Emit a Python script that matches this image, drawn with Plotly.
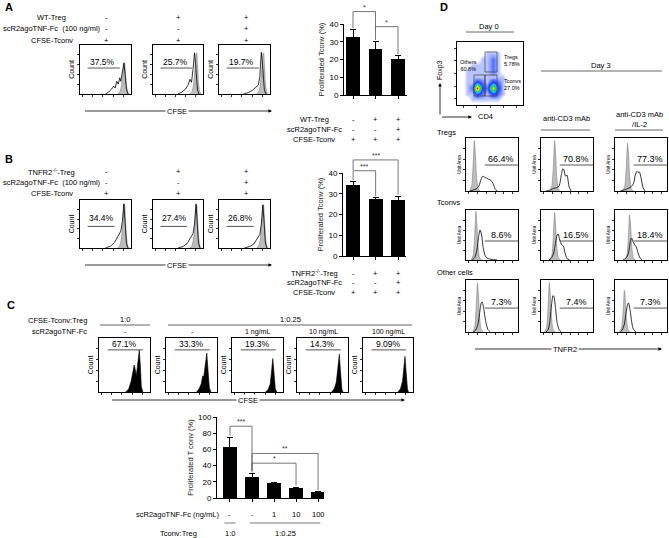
import plotly.graph_objects as go

W, H = 669, 538
FONT = "Liberation Sans, Arial, sans-serif"
GRAY_FILL = "#bdbdbd"
GRAY_LINE = "#808080"

# ======================= DATA =======================
# ---- Panel A ----
A_COND_LABELS = ["WT-Treg", "scR2agoTNF-Fc  (100 ng/ml)", "CFSE-Tconv"]
A_COND_VALUES = [["-", "+", "+"], ["-", "-", "+"], ["+", "+", "+"]]
A_PCT = ["37.5%", "25.7%", "19.7%"]
A_GRAY_X = [0.74, 0.78, 0.81, 0.84, 0.86, 0.875, 0.89, 0.91, 0.94, 0.97]
A_GRAY_Y = [
    [0, 0.04, 0.15, 0.40, 0.60, 0.65, 0.48, 0.18, 0.03, 0],
    [0, 0.05, 0.18, 0.50, 0.80, 0.84, 0.60, 0.22, 0.03, 0],
    [0, 0.05, 0.18, 0.50, 0.80, 0.84, 0.60, 0.22, 0.03, 0],
]
A_OUT_X = [
    [0.50, 0.56, 0.62, 0.66, 0.69, 0.72, 0.75, 0.78, 0.80, 0.83, 0.86, 0.88, 0.91, 0.94],
    [0.50, 0.58, 0.65, 0.70, 0.74, 0.77, 0.80, 0.83, 0.86, 0.89, 0.92],
    [0.48, 0.58, 0.66, 0.72, 0.77, 0.80, 0.83, 0.86, 0.89, 0.92],
]
A_OUT_Y = [
    [0, 0.04, 0.10, 0.16, 0.12, 0.26, 0.20, 0.33, 0.26, 0.42, 0.63, 0.45, 0.10, 0],
    [0, 0.04, 0.10, 0.18, 0.30, 0.24, 0.50, 0.84, 0.50, 0.08, 0],
    [0, 0.03, 0.08, 0.13, 0.18, 0.35, 0.85, 0.50, 0.08, 0],
]
A_BAR_VALUES = [32.5, 26.0, 20.3]
A_BAR_ERR = [4.5, 4.0, 2.0]
A_BAR_ROWS = ["WT-Treg", "scR2agoTNF-Fc", "CFSE-Tconv"]
# [i, j, top, left-leg end, right-leg end, label]
A_SIG = [[0, 1, 47.0, 37.5, 37.5, "*"], [1, 2, 38.5, 31.0, 23.0, "*"]]

# ---- Panel B ----
B_COND_LABELS = ["TNFR2<sup>-/-</sup>-Treg", "scR2agoTNF-Fc  (100 ng/ml)", "CFSE-Tconv"]
B_COND_VALUES = [["-", "+", "+"], ["-", "-", "+"], ["+", "+", "+"]]
B_PCT = ["34.4%", "27.4%", "26.8%"]
B_GRAY_X = [0.74, 0.78, 0.81, 0.84, 0.86, 0.875, 0.89, 0.91, 0.94, 0.97]
B_GRAY_Y = [
    [0, 0.05, 0.18, 0.50, 0.85, 0.92, 0.65, 0.25, 0.03, 0],
    [0, 0.05, 0.18, 0.50, 0.84, 0.90, 0.64, 0.24, 0.03, 0],
    [0, 0.05, 0.18, 0.50, 0.84, 0.90, 0.64, 0.24, 0.03, 0],
]
B_OUT_X = [0.50, 0.60, 0.68, 0.73, 0.77, 0.80, 0.83, 0.86, 0.88, 0.91, 0.94]
B_OUT_Y = [
    [0, 0.04, 0.12, 0.22, 0.30, 0.35, 0.55, 0.92, 0.60, 0.10, 0],
    [0, 0.03, 0.09, 0.17, 0.24, 0.30, 0.50, 0.92, 0.60, 0.10, 0],
    [0, 0.03, 0.08, 0.16, 0.23, 0.28, 0.50, 0.90, 0.60, 0.10, 0],
]
B_BAR_VALUES = [34.2, 27.5, 27.2]
B_BAR_ERR = [1.8, 0.7, 1.4]
B_BAR_ROWS = ["TNFR2<sup>-/-</sup>-Treg", "scR2agoTNF-Fc", "CFSE-Tconv"]
B_SIG = [[0, 1, 41.1, 36.6, 28.8, "***"], [0, 2, 46.3, 41.4, 29.6, "***"]]

# ---- Panel C ----
C_ROW_LABELS = ["CFSE-Tconv:Treg", "scR2agoTNF-Fc"]
C_RATIOS = ["1:0", "1:0.25"]
C_DOSES = ["-", "-", "1 ng/mL", "10 ng/mL", "100 ng/mL"]
C_PCT = ["67.1%", "33.3%", "19.3%", "14.3%", "9.09%"]
C_HIST_X = [
    [0.52, 0.58, 0.63, 0.66, 0.69, 0.71, 0.73, 0.75, 0.77, 0.79, 0.81, 0.83, 0.86],
    [0.60, 0.65, 0.69, 0.72, 0.74, 0.76, 0.78, 0.80, 0.82, 0.85, 0.88],
    [0.66, 0.71, 0.75, 0.78, 0.80, 0.82, 0.85, 0.88],
    [0.68, 0.73, 0.77, 0.80, 0.83, 0.85, 0.88, 0.90],
    [0.70, 0.75, 0.79, 0.82, 0.84, 0.86, 0.89, 0.91],
]
C_HIST_Y = [
    [0, 0.05, 0.20, 0.35, 0.50, 0.42, 0.30, 0.45, 0.70, 0.78, 0.50, 0.10, 0],
    [0, 0.06, 0.15, 0.30, 0.28, 0.40, 0.60, 0.72, 0.45, 0.08, 0],
    [0, 0.05, 0.15, 0.45, 0.62, 0.40, 0.05, 0],
    [0, 0.06, 0.18, 0.45, 0.70, 0.42, 0.05, 0],
    [0, 0.06, 0.20, 0.45, 0.66, 0.40, 0.05, 0],
]
C_BAR_VALUES = [63.3, 25.7, 18.4, 12.2, 7.1]
C_BAR_ERR = [11.5, 4.9, 1.0, 0.6, 1.0]
C_BAR_DOSE = ["-", "-", "1", "10", "100"]
C_SIG = [[0, 1, 88.6, 77.0, 31.5, "***"], [1, 4, 55.0, 34.0, 10.0, "**"], [1, 3, 43.0, 34.0, 15.5, "*"]]

# ---- Panel D ----
D_COLS = ["", "anti-CD3 mAb", "anti-CD3 mAb<br>/IL-2"]
D_ROWS = ["Tregs", "Tconvs", "Other cells"]
D_PCT = [["66.4%", "70.8%", "77.3%"], ["8.6%", "16.5%", "18.4%"], ["7.3%", "7.4%", "7.3%"]]
D_GRAY_X = [
    [[0.07, 0.11, 0.14, 0.16, 0.18, 0.20, 0.23, 0.27],
     [0.17, 0.21, 0.24, 0.26, 0.28, 0.30, 0.33, 0.37],
     [0.15, 0.19, 0.22, 0.24, 0.26, 0.28, 0.31, 0.35]],
    [[0.10, 0.14, 0.17, 0.19, 0.21, 0.23, 0.26, 0.30],
     [0.17, 0.21, 0.24, 0.26, 0.28, 0.30, 0.33, 0.37],
     [0.19, 0.23, 0.26, 0.28, 0.30, 0.32, 0.35, 0.39]],
    [[0.13, 0.17, 0.20, 0.22, 0.24, 0.26, 0.29, 0.33],
     [0.07, 0.11, 0.14, 0.16, 0.18, 0.20, 0.23, 0.27],
     [0.09, 0.13, 0.16, 0.18, 0.20, 0.22, 0.25, 0.29]],
]
D_GRAY_Y = [
    [[0, 0.10, 0.55, 0.95, 0.70, 0.30, 0.05, 0],
     [0, 0.10, 0.50, 0.95, 0.75, 0.30, 0.05, 0],
     [0, 0.10, 0.50, 0.90, 0.70, 0.30, 0.05, 0]],
    [[0, 0.10, 0.55, 0.97, 0.70, 0.30, 0.05, 0],
     [0, 0.10, 0.50, 0.95, 0.72, 0.30, 0.05, 0],
     [0, 0.10, 0.50, 0.90, 0.70, 0.30, 0.05, 0]],
    [[0, 0.10, 0.55, 0.94, 0.70, 0.30, 0.05, 0],
     [0, 0.10, 0.55, 0.95, 0.70, 0.30, 0.05, 0],
     [0, 0.10, 0.45, 0.80, 0.60, 0.25, 0.05, 0]],
]
D_OUT_X = [
    [[0.08, 0.14, 0.20, 0.25, 0.29, 0.32, 0.36, 0.40, 0.44, 0.48, 0.52, 0.56, 0.60],
     [0.10, 0.18, 0.24, 0.30, 0.35, 0.39, 0.42, 0.44, 0.47, 0.50, 0.54, 0.58],
     [0.10, 0.18, 0.25, 0.31, 0.36, 0.39, 0.42, 0.44, 0.47, 0.50, 0.54, 0.58]],
    [[0.12, 0.17, 0.21, 0.24, 0.27, 0.30, 0.33, 0.37, 0.42, 0.50, 0.60],
     [0.15, 0.20, 0.24, 0.28, 0.31, 0.33, 0.36, 0.40, 0.43, 0.46, 0.50, 0.55],
     [0.15, 0.20, 0.24, 0.27, 0.30, 0.32, 0.35, 0.38, 0.41, 0.44, 0.48, 0.52]],
    [[0.14, 0.19, 0.23, 0.26, 0.29, 0.31, 0.34, 0.38, 0.42, 0.47],
     [0.10, 0.14, 0.17, 0.20, 0.23, 0.25, 0.28, 0.31, 0.35, 0.39],
     [0.10, 0.14, 0.18, 0.21, 0.24, 0.26, 0.29, 0.32, 0.35, 0.40]],
]
D_OUT_Y = [
    [[0, 0.02, 0.04, 0.10, 0.22, 0.28, 0.26, 0.24, 0.22, 0.20, 0.14, 0.04, 0],
     [0, 0.02, 0.05, 0.06, 0.10, 0.30, 0.42, 0.40, 0.28, 0.30, 0.08, 0],
     [0, 0.02, 0.05, 0.08, 0.15, 0.30, 0.37, 0.35, 0.36, 0.25, 0.06, 0]],
    [[0, 0.05, 0.20, 0.45, 0.60, 0.50, 0.25, 0.08, 0.03, 0.01, 0],
     [0, 0.04, 0.12, 0.35, 0.50, 0.52, 0.40, 0.30, 0.28, 0.15, 0.03, 0],
     [0, 0.03, 0.08, 0.20, 0.40, 0.44, 0.36, 0.30, 0.26, 0.15, 0.04, 0]],
    [[0, 0.04, 0.15, 0.35, 0.55, 0.58, 0.45, 0.20, 0.05, 0],
     [0, 0.05, 0.20, 0.50, 0.70, 0.68, 0.45, 0.18, 0.04, 0],
     [0, 0.04, 0.15, 0.35, 0.52, 0.56, 0.42, 0.20, 0.06, 0]],
]
# Day 0 CD4 / Foxp3 pseudocolor density (coarse grid)
DOT_X = [0, 0.077, 0.154, 0.23, 0.31, 0.385, 0.46, 0.54, 0.615, 0.69, 0.77, 0.846, 0.92, 1.0]
DOT_Y = [0, 0.09, 0.18, 0.27, 0.36, 0.45, 0.545, 0.636, 0.727, 0.818, 0.909, 1.0]
DOT_Z = [
    [0, 0, 0, 0, 0, 0, 0, 0, 0, 0, 0, 0, 0, 0],
    [0, 0, 0, 1, 1, 1, 1, 1, 1, 0, 0, 0, 0, 0],
    [0, 0, 1, 1, 3, 2, 1, 3, 2, 1, 0, 0, 0, 0],
    [0, 0, 1, 2, 9, 3, 2, 7, 3, 1, 0, 0, 0, 0],
    [0, 0, 1, 1, 3, 2, 1, 3, 2, 1, 0, 0, 0, 0],
    [0, 0, 1, 1, 1, 1, 1, 1, 1, 1, 0, 0, 0, 0],
    [0, 0, 1, 1, 1, 1, 1, 2, 1, 0, 0, 0, 0, 0],
    [0, 0, 0, 1, 1, 1, 1, 2, 1, 0, 0, 0, 0, 0],
    [0, 0, 0, 0, 0, 1, 1, 2, 1, 0, 0, 0, 0, 0],
    [0, 0, 0, 0, 0, 0, 1, 1, 1, 0, 0, 0, 0, 0],
    [0, 0, 0, 0, 0, 0, 0, 0, 0, 0, 0, 0, 0, 0],
    [0, 0, 0, 0, 0, 0, 0, 0, 0, 0, 0, 0, 0, 0],
]
GATES = {  # x0, x1, y0, y1 in plot fraction
    "Tregs": [0.424, 0.606, 0.524, 0.841],
    "Tconvs": [0.424, 0.606, 0.143, 0.476],
    "Others": [0.258, 0.424, 0.143, 0.476],
}
GATE_LABELS = [["Others<br>60.8%", 0.17, 0.62, "center"],
               ["Tregs<br>5.78%", 0.68, 0.70, "left"],
               ["Tconvs<br>27.0%", 0.68, 0.32, "left"]]

# ======================= BUILD =======================
fig = go.Figure()
LAY = {}
ANN = []
SHP = []
_n = [0]


def axes(x0, x1, ytop, ybot, xr, yr, xo=None, yo=None):
    _n[0] += 1
    s = "" if _n[0] == 1 else str(_n[0])
    base = dict(showgrid=False, zeroline=False, fixedrange=True, automargin=False)
    xa = dict(base, domain=[x0 / W, x1 / W], anchor="y" + s, range=xr)
    ya = dict(base, domain=[1 - ybot / H, 1 - ytop / H], anchor="x" + s, range=yr)
    xa.update(xo or {})
    ya.update(yo or {})
    LAY["xaxis" + s] = xa
    LAY["yaxis" + s] = ya
    return "x" + s, "y" + s


def text(px, py, s, size=7.5, xanchor="center", color="black", bold=False, **kw):
    if bold:
        s = "<b>" + s + "</b>"
    ANN.append(dict(x=px / W, y=1 - py / H, xref="paper", yref="paper", text=s, showarrow=False,
                    font=dict(size=size, family=FONT, color=color), xanchor=xanchor,
                    yanchor="middle", **kw))


def pline(x0, y0, x1, y1, color="#555", width=0.9):
    SHP.append(dict(type="line", xref="paper", yref="paper", x0=x0 / W, x1=x1 / W,
                    y0=1 - y0 / H, y1=1 - y1 / H, line=dict(color=color, width=width)))


def arrow(tx, ty, hx, hy):
    ANN.append(dict(x=hx / W, y=1 - hy / H, xref="paper", yref="paper", text=" ",
                    font=dict(size=2), showarrow=True, ax=tx - hx, ay=ty - hy,
                    axref="pixel", ayref="pixel",
                    arrowhead=2, arrowsize=0.9, arrowwidth=0.8, arrowcolor="black"))


def box_axes(x0, x1, ytop, ybot, ytitle, tsize, ticks_x=None, ticks_y=None):
    common = dict(showline=True, mirror=True, linecolor="black", linewidth=0.8,
                  ticks="outside", ticklen=2, tickwidth=0.6, tickcolor="#333",
                  showticklabels=False)
    xo = dict(common, tickvals=ticks_x or [0.05, 0.25, 0.45, 0.65, 0.85])
    yo = dict(common, tickvals=ticks_y or [0.2, 0.4, 0.6, 0.8])
    if ytitle:
        yo["title"] = dict(text=ytitle, font=dict(size=tsize, family=FONT, color="black"), standoff=1)
    return axes(x0, x1, ytop, ybot, [0, 1], [0, 1], xo, yo)


def gray_curve(xa, ya, gx, gy):
    fig.add_trace(go.Scatter(x=gx, y=gy, xaxis=xa, yaxis=ya, mode="lines", fill="tozeroy",
                             fillcolor=GRAY_FILL, line=dict(color=GRAY_LINE, width=0.6, shape="spline", smoothing=0.5),
                             hoverinfo="skip", showlegend=False))


def out_curve(xa, ya, ox, oy, shape="linear"):
    fig.add_trace(go.Scatter(x=ox, y=oy, xaxis=xa, yaxis=ya, mode="lines",
                             line=dict(color="black", width=0.8, shape=shape, smoothing=0.6),
                             hoverinfo="skip", showlegend=False))


def pct_mark(xa, ya, lx0, lx1, ly, tx, ty, label, size):
    fig.add_trace(go.Scatter(x=[lx0, lx1], y=[ly, ly], xaxis=xa, yaxis=ya, mode="lines",
                             line=dict(color="#555", width=1.0), hoverinfo="skip", showlegend=False))
    ANN.append(dict(x=tx, y=ty, xref=xa, yref=ya, text=label, showarrow=False,
                    font=dict(size=size, family=FONT, color="black"), xanchor="center", yanchor="middle"))


def bar_chart(x0, x1, p0, pmax, vmax, ptop, xr, vals, errs, width, yticks, ytitle, sig):
    xo = dict(showline=True, linecolor="black", linewidth=1, ticks="outside", ticklen=3,
              tickwidth=1, tickcolor="black", tickvals=list(range(len(vals))), showticklabels=False)
    yo = dict(showline=True, linecolor="black", linewidth=1, ticks="outside", ticklen=3,
              tickwidth=1, tickcolor="black", tickvals=yticks,
              tickfont=dict(size=8, family=FONT, color="black"),
              title=dict(text=ytitle, font=dict(size=7.5, family=FONT, color="#222"), standoff=3))
    xa, ya = axes(x0, x1, pmax, p0, xr, [0, vmax], xo, yo)
    fig.add_trace(go.Bar(x=list(range(len(vals))), y=vals, width=width, xaxis=xa, yaxis=ya,
                         marker=dict(color="black", line=dict(width=0)),
                         error_y=dict(type="data", array=errs, visible=True, color="black",
                                      thickness=1, width=3),
                         hoverinfo="skip", showlegend=False))
    top_val = vmax * (p0 - ptop) / (p0 - pmax)
    bxa, bya = axes(x0, x1, ptop, p0, xr, [0, top_val], dict(visible=False), dict(visible=False))
    for i, j, top, l, r, lab in sig:
        fig.add_trace(go.Scatter(x=[i, i, j, j], y=[l, top, top, r], xaxis=bxa, yaxis=bya,
                                 mode="lines", line=dict(color="#666", width=0.9),
                                 hoverinfo="skip", showlegend=False))
        ANN.append(dict(x=(i + j) / 2, y=top, xref=bxa, yref=bya, text=lab, showarrow=False,
                        font=dict(size=7, family=FONT, color="#333"), xanchor="center",
                        yanchor="bottom", yshift=-1))
    return xa, ya


# ---------------- Panel A ----------------
text(3, 7, "A", size=11, xanchor="left", bold=True)
A_BOX_X = [(80, 131), (153, 203), (219, 270)]
A_COL_X = [106, 178, 246]
for r, lab in enumerate(A_COND_LABELS):
    text(52, 17 + r * 11.5, lab)
    for c in range(3):
        text(A_COL_X[c], 17 + r * 11.5, A_COND_VALUES[r][c])
for c, (bx0, bx1) in enumerate(A_BOX_X):
    xa, ya = box_axes(bx0, bx1, 45, 94, "Count", 7)
    gray_curve(xa, ya, A_GRAY_X, A_GRAY_Y[c])
    out_curve(xa, ya, A_OUT_X[c], A_OUT_Y[c])
    pct_mark(xa, ya, 0.15, 0.78, 0.53, 0.45, 0.65, A_PCT[c], 8.5)
arrow(83, 111, 272, 111)
text(177, 111, "CFSE", size=7.5, bgcolor="white")

xa, ya = bar_chart(344, 407, 95, 24, 40, 3, [-0.4, 2.4], A_BAR_VALUES, A_BAR_ERR, 0.62,
                   [0, 10, 20, 30, 40], "Proliferated Tconv (%)", A_SIG)
for r, lab in enumerate(A_BAR_ROWS):
    ANN.append(dict(x=314 / W, y=1 - (119 + r * 10.5) / H, xref="paper", yref="paper", text=lab,
                    showarrow=False, font=dict(size=7.5, family=FONT, color="black"),
                    xanchor="center", yanchor="middle"))
    for c in range(3):
        ANN.append(dict(x=c, y=1 - (119 + r * 10.5) / H, xref=xa, yref="paper",
                        text=A_COND_VALUES[r][c], showarrow=False,
                        font=dict(size=7.5, family=FONT, color="black"), yanchor="middle"))

# ---------------- Panel B ----------------
text(3, 159, "B", size=11, xanchor="left", bold=True)
for r, lab in enumerate(B_COND_LABELS):
    text(52, 172 + r * 10.5, lab)
    for c in range(3):
        text(A_COL_X[c], 172 + r * 10.5, B_COND_VALUES[r][c])
for c, (bx0, bx1) in enumerate(A_BOX_X):
    xa, ya = box_axes(bx0, bx1, 200, 248, "Count", 7)
    gray_curve(xa, ya, B_GRAY_X, B_GRAY_Y[c])
    out_curve(xa, ya, B_OUT_X, B_OUT_Y[c])
    pct_mark(xa, ya, 0.15, 0.68, 0.45, 0.42, 0.62, B_PCT[c], 8.5)
arrow(83, 265, 272, 265)
text(177, 265, "CFSE", size=7.5, bgcolor="white")

xa, ya = bar_chart(343, 406, 256, 173, 40, 150, [-0.45, 2.35], B_BAR_VALUES, B_BAR_ERR, 0.62,
                   [0, 10, 20, 30, 40], "Proliferated Tconv (%)", B_SIG)
for r, lab in enumerate(B_BAR_ROWS):
    ANN.append(dict(x=314 / W, y=1 - (273 + r * 9.8) / H, xref="paper", yref="paper", text=lab,
                    showarrow=False, font=dict(size=7.5, family=FONT, color="black"),
                    xanchor="center", yanchor="middle"))
    for c in range(3):
        ANN.append(dict(x=c, y=1 - (273 + r * 9.8) / H, xref=xa, yref="paper",
                        text=B_COND_VALUES[r][c], showarrow=False,
                        font=dict(size=7.5, family=FONT, color="black"), yanchor="middle"))

# ---------------- Panel C ----------------
text(5, 305, "C", size=11, xanchor="left", bold=True)
text(89, 320, C_ROW_LABELS[0], xanchor="right")
text(89, 331, C_ROW_LABELS[1], xanchor="right")
text(125, 319, C_RATIOS[0])
pline(100, 325, 150, 325)
text(290, 319, C_RATIOS[1])
pline(168, 325, 412, 325)
C_BOX_X = [(99, 150), (166, 217), (232, 283), (297, 348), (363, 413)]
C_DOSE_X = [125, 192, 257, 323, 388]
for c, (bx0, bx1) in enumerate(C_BOX_X):
    text(C_DOSE_X[c], 331.5, C_DOSES[c], size=7)
    xa, ya = box_axes(bx0, bx1, 338, 392, "Count", 7)
    fig.add_trace(go.Scatter(x=C_HIST_X[c], y=C_HIST_Y[c], xaxis=xa, yaxis=ya, mode="lines",
                             fill="tozeroy", fillcolor="black", line=dict(color="black", width=0.6),
                             hoverinfo="skip", showlegend=False))
    pct_mark(xa, ya, 0.17, 0.86, 0.78, 0.5, 0.88, C_PCT[c], 8.5)
arrow(110, 400, 405, 400)
text(248, 400, "CFSE", size=7.5, bgcolor="white")

xa, ya = bar_chart(217, 324, 498, 417, 100, 412, [-0.59, 4.27], C_BAR_VALUES, C_BAR_ERR, 0.66,
                   [0, 20, 40, 60, 80, 100], "Proliferated T conv (%)", C_SIG)
text(221, 514, "scR2agoTNF-Fc (ng/mL)", xanchor="right")
text(178, 533, "Tconv:Treg")
for c, lab in enumerate(C_BAR_DOSE):
    ANN.append(dict(x=c, y=1 - 514 / H, xref=xa, yref="paper", text=lab, showarrow=False,
                    font=dict(size=7.5, family=FONT, color="black"), yanchor="middle"))
ANN.append(dict(x=0, y=1 - 533 / H, xref=xa, yref="paper", text=C_RATIOS[0], showarrow=False,
                font=dict(size=7.5, family=FONT, color="black"), yanchor="middle"))
ANN.append(dict(x=2.5, y=1 - 533 / H, xref=xa, yref="paper", text=C_RATIOS[1], showarrow=False,
                font=dict(size=7.5, family=FONT, color="black"), yanchor="middle"))
SHP.append(dict(type="line", xref=xa, yref="paper", x0=-0.25, x1=0.25, y0=1 - 523 / H, y1=1 - 523 / H,
                line=dict(color="#555", width=0.8)))
SHP.append(dict(type="line", xref=xa, yref="paper", x0=0.9, x1=4.1, y0=1 - 523 / H, y1=1 - 523 / H,
                line=dict(color="#555", width=0.8)))

# ---------------- Panel D ----------------
text(438, 7, "D", size=11, xanchor="left", bold=True)
text(489, 27, "Day 0", size=7.5)
pline(466, 32, 514, 32)
dxa, dya = axes(457, 523, 42, 105, [0, 1], [0, 1],
                dict(showline=True, mirror=True, linecolor="black", linewidth=0.8, ticks="outside",
                     ticklen=2, tickwidth=0.6, tickvals=[0.1, 0.3, 0.5, 0.7, 0.9], showticklabels=False),
                dict(showline=True, mirror=True, linecolor="black", linewidth=0.8, ticks="outside",
                     ticklen=2, tickwidth=0.6, tickvals=[0.1, 0.3, 0.5, 0.7, 0.9], showticklabels=False))
fig.add_trace(go.Heatmap(x=DOT_X, y=DOT_Y, z=DOT_Z, xaxis=dxa, yaxis=dya, zsmooth="best",
                         zmin=0, zmax=9, showscale=False, hoverinfo="skip",
                         colorscale=[[0, "white"], [0.04, "white"], [0.111, "#b8c4ff"],
                                     [0.222, "#5570ff"], [0.333, "#2038ff"], [0.45, "#18c0f0"],
                                     [0.6, "#30d040"], [0.78, "#f0f000"], [1, "#ff1a00"]]))
for name, (gx0, gx1, gy0, gy1) in GATES.items():
    fig.add_trace(go.Scatter(x=[gx0, gx1, gx1, gx0, gx0], y=[gy0, gy0, gy1, gy1, gy0],
                             xaxis=dxa, yaxis=dya, mode="lines",
                             line=dict(color="#444", width=0.7), hoverinfo="skip", showlegend=False))
for lab, gx, gy, anc in GATE_LABELS:
    ANN.append(dict(x=gx, y=gy, xref=dxa, yref=dya, text=lab, showarrow=False,
                    font=dict(size=5.5, family=FONT, color="black"), xanchor=anc, yanchor="middle",
                    align=anc))
arrow(440, 117, 440, 83)
arrow(440, 117, 472, 117)
text(440, 70, "Foxp3", size=7, textangle=-90)
text(476, 117, "CD4", size=7.5, xanchor="left")

text(601, 65, "Day 3", size=7.5)
pline(541, 71, 662, 71)
text(566, 118, D_COLS[1], size=7.5)
pline(541, 130, 590, 130)
text(639, 119, D_COLS[2], size=7.5)
pline(615, 130, 663, 130)

D_BOX_X = [(466, 518), (541, 593), (615, 667)]
D_BOX_Y = [(138, 191), (210, 260), (280, 332)]
D_ROW_LABEL_Y = [132, 202, 272]
D_PCT_Y = [(0.49, 0.61), (0.38, 0.51), (0.46, 0.58)]
for r in range(3):
    text(435, D_ROW_LABEL_Y[r], D_ROWS[r], size=7.5, xanchor="left")
    for c in range(3):
        xa, ya = box_axes(D_BOX_X[c][0], D_BOX_X[c][1], D_BOX_Y[r][0], D_BOX_Y[r][1],
                          "Unit Area", 4.5, ticks_x=[0.05, 0.22, 0.39, 0.56, 0.73, 0.9],
                          ticks_y=[0.2, 0.4, 0.6, 0.8])
        gray_curve(xa, ya, D_GRAY_X[r][c], D_GRAY_Y[r][c])
        out_curve(xa, ya, D_OUT_X[r][c], D_OUT_Y[r][c], shape="spline")
        pct_mark(xa, ya, 0.36, 1.0, D_PCT_Y[r][0], 0.68, D_PCT_Y[r][1], D_PCT[r][c], 9)
arrow(473, 349, 662, 349)
text(565, 349, "TNFR2", size=7.5, bgcolor="white")

fig.update_layout(**LAY)
fig.update_layout(width=W, height=H, autosize=False, margin=dict(l=0, r=0, t=0, b=0),
                  paper_bgcolor="white", plot_bgcolor="rgba(0,0,0,0)", showlegend=False,
                  annotations=ANN, shapes=SHP, font=dict(family=FONT, size=8, color="black"),
                  bargap=0)
fig.write_html("out.html", config={"displayModeBar": False},
               post_script="document.body.style.margin='0px';document.body.style.overflow='hidden';")
